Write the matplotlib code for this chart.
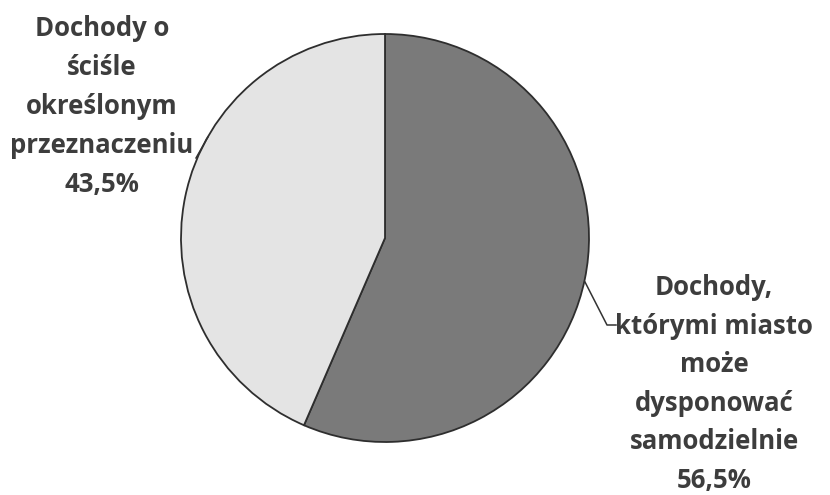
import matplotlib.pyplot as plt

# chart data
label_dark = ['Dochody,', 'którymi miasto', 'może', 'dysponować', 'samodzielnie']
label_light = ['Dochody o', 'ściśle', 'określonym', 'przeznaczeniu']
shares = [56.5, 43.5]
colors = ['#7a7a7a', '#e4e4e4']

W, H = 830, 495

fig = plt.figure(figsize=(W / 100, H / 100), dpi=100)
ax = fig.add_axes([0, 0, 1, 1])

# pie, in pixel-like data coordinates (y up)
cx, cy, r = 385, H - 238, 204
ax.pie(shares, colors=colors, startangle=90, counterclock=False,
       center=(cx, cy), radius=r, frame=True,
       wedgeprops=dict(edgecolor='#2e2e2e', linewidth=1.3))
ax.set_xlim(0, W)
ax.set_ylim(0, H)
ax.set_aspect('equal')
ax.axis('off')

txt_color = '#3d3d3d'
font = dict(family=['Open Sans', 'DejaVu Sans'], fontweight='bold', fontsize=18.5, color=txt_color)


def fmt(v):
    return f'{v:.1f}'.replace('.', ',') + '%'


def label(x, y0, step, lines):
    for i, s in enumerate(lines):
        ax.text(x, H - (y0 + i * step), s, ha='center', va='baseline', **font)


label(714, 295, 38.6, label_dark + [fmt(shares[0])])
label(102, 36, 39, label_light + [fmt(shares[1])])

# leader lines
ax.plot([208, 196], [H - 137, H - 158], color='#333333', lw=1.1)
ax.plot([585, 607, 616], [H - 282, H - 325, H - 325], color='#333333', lw=1.1)

fig.savefig('out.png', dpi=100, facecolor='white')
